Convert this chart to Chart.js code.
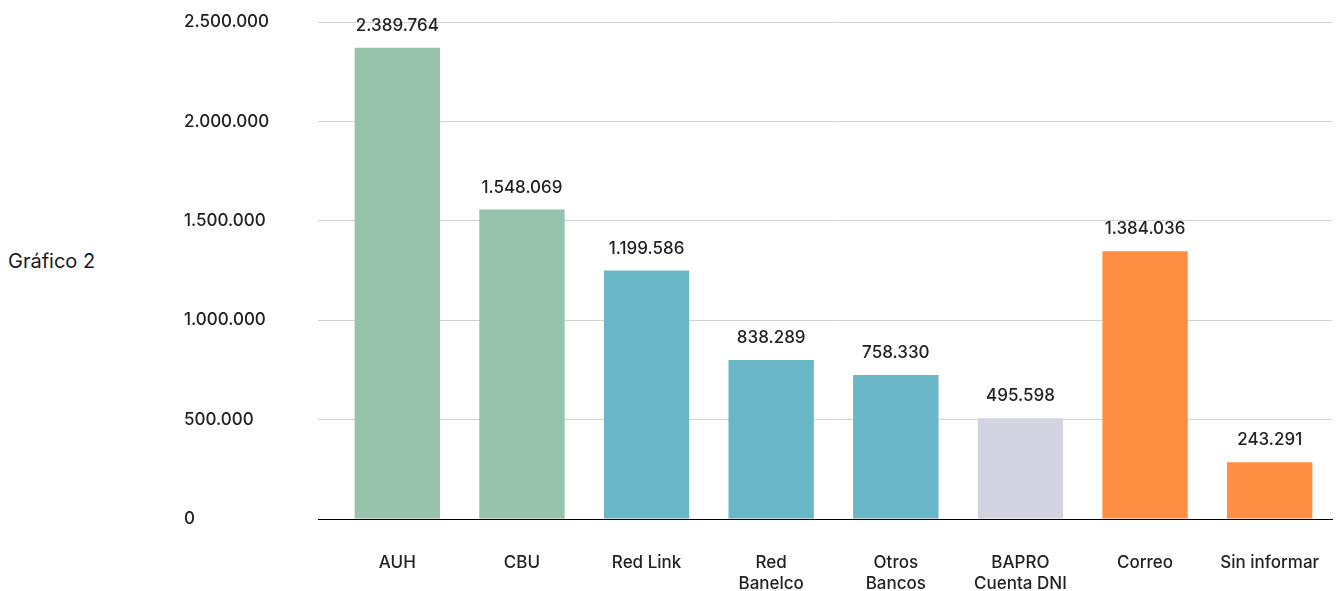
<!DOCTYPE html>
<html>
<head>
<meta charset="utf-8">
<title>Gráfico 2</title>
<script src="https://cdn.jsdelivr.net/npm/chart.js@4"></script>
<style>
    html, body { margin: 0; padding: 0; background: #ffffff; }
    #wrap { position: relative; width: 1336px; height: 591px; }
    #side_title {
        position: absolute; left: 8px; top: 249px;
        font-family: Inter, "Noto Sans", sans-serif; font-size: 20px; line-height: 24px; color: #1a1a1a;
    }
    canvas { position: absolute; left: 0; top: 0; }
</style>
</head>
<body>
<div id="wrap">
    <div id="side_title">Gráfico 2</div>
    <canvas id="chart_canales" width="1336" height="591"></canvas>
</div>
<script>
    const categories = [["AUH"], ["CBU"], ["Red Link"], ["Red", "Banelco"], ["Otros", "Bancos"], ["BAPRO", "Cuenta DNI"], ["Correo"], ["Sin informar"]];
    // bar heights as drawn in the picture
    const bar_values = [2370000, 1557000, 1250000, 800000, 724000, 507000, 1347000, 286000];
    // printed values above the bars
    const value_labels = ["2.389.764", "1.548.069", "1.199.586", "838.289", "758.330", "495.598", "1.384.036", "243.291"];
    const bar_colors = ["#97C3AC", "#97C3AC", "#69B6C6", "#69B6C6", "#69B6C6", "#D3D3E1", "#FF8F42", "#FF8F42"];
    const y_ticks = [0, 500000, 1000000, 1500000, 2000000, 2500000];

    const fuente = 'Inter, "Noto Sans", sans-serif';

    function formatMiles(v) {
        return v.toString().replace(/\B(?=(\d{3})+(?!\d))/g, ".");
    }

    const valueLabels = {
        id: 'valueLabels',
        afterDatasetsDraw(chart) {
            const ctx = chart.ctx;
            const meta = chart.getDatasetMeta(0);
            ctx.save();
            ctx.font = '500 17px ' + fuente;
            ctx.fillStyle = '#222222';
            ctx.textAlign = 'center';
            ctx.textBaseline = 'middle';
            meta.data.forEach((bar, i) => {
                ctx.fillText(value_labels[i], bar.x, bar.y - 22);
            });
            ctx.restore();
        }
    };

    const ctxC = document.getElementById('chart_canales');
    new Chart(ctxC, {
        type: 'bar',
        data: {
            labels: categories,
            datasets: [{
                data: bar_values,
                backgroundColor: bar_colors,
                borderWidth: 0,
                categoryPercentage: 0.685,
                barPercentage: 1
            }]
        },
        options: {
            responsive: false,
            animation: false,
            layout: {
                padding: { left: 184, top: 22, right: 4, bottom: 0 }
            },
            plugins: {
                legend: { display: false },
                tooltip: { enabled: false }
            },
            scales: {
                y: {
                    min: 0,
                    max: 2500000,
                    afterBuildTicks: (scale) => {
                        scale.ticks = y_ticks.map(v => ({ value: v }));
                    },
                    afterFit: (scale) => { scale.width = 151; },
                    border: { display: false },
                    grid: {
                        color: (c) => c.tick && c.tick.value === 0 ? '#000000' : '#d2d2d2',
                        lineWidth: 1,
                        tickLength: 17
                    },
                    ticks: {
                        crossAlign: 'far',
                        color: '#222222',
                        font: { family: fuente, size: 17, weight: 500 },
                        callback: (v) => formatMiles(v)
                    }
                },
                x: {
                    afterFit: (scale) => {
                        scale.height = 72;
                        scale.paddingLeft = 0;
                        scale.paddingRight = 0;
                    },
                    border: { display: true, color: '#000000', width: 1 },
                    grid: { display: false, drawTicks: false },
                    ticks: {
                        padding: 33,
                        maxRotation: 0,
                        autoSkip: false,
                        color: '#222222',
                        font: { family: fuente, size: 17, weight: 500, lineHeight: 1.25 }
                    }
                }
            }
        },
        plugins: [valueLabels]
    });
</script>
</body>
</html>
